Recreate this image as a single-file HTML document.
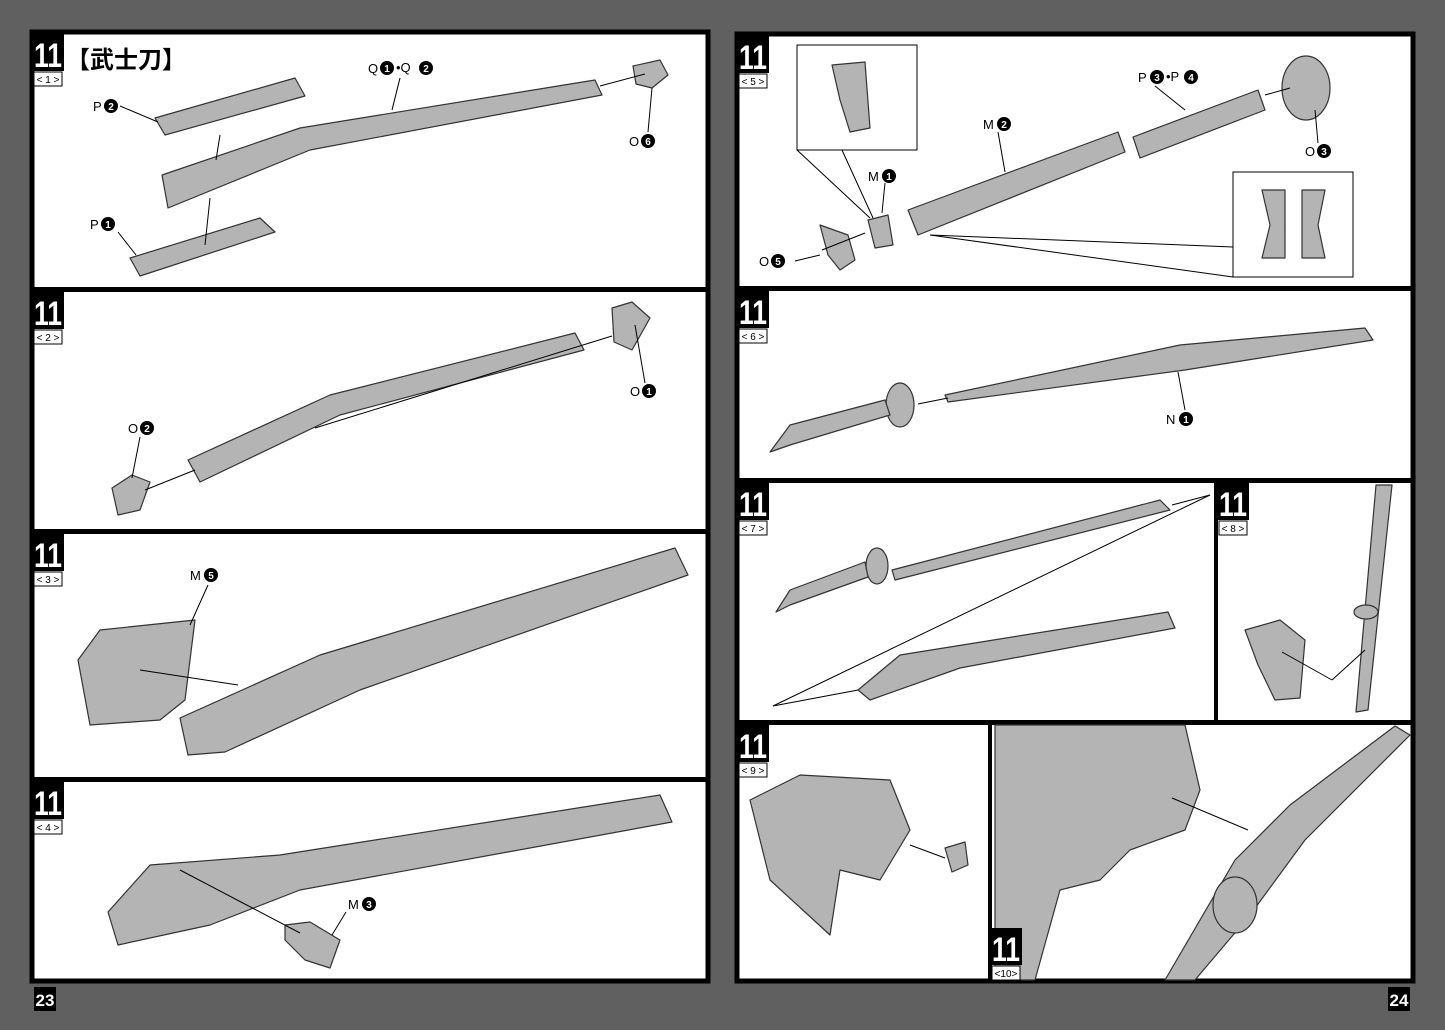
<!DOCTYPE html>
<html><head><meta charset="utf-8"><style>
html,body{margin:0;padding:0;background:#606060;}
svg{display:block}
text{font-family:"Liberation Sans","Noto Sans CJK SC",sans-serif}
</style></head><body>
<svg width="1445" height="1030" viewBox="0 0 1445 1030" xmlns="http://www.w3.org/2000/svg">
<defs>
<g id="tag"><rect x="0" y="0" width="32" height="37" fill="#000"/><text x="16" y="33" font-size="34" font-weight="bold" fill="#fff" text-anchor="middle" textLength="28" lengthAdjust="spacingAndGlyphs">11</text></g>
</defs>
<rect width="1445" height="1030" fill="#606060"/>
<!-- left page -->
<rect x="32" y="32" width="676" height="949" fill="#fff" stroke="#000" stroke-width="5"/>
<rect x="30" y="287" width="680" height="5" fill="#000"/>
<rect x="30" y="529" width="680" height="5" fill="#000"/>
<rect x="30" y="777" width="680" height="5" fill="#000"/>
<!-- right page -->
<rect x="737" y="34" width="676" height="947" fill="#fff" stroke="#000" stroke-width="5"/>
<rect x="735" y="286" width="680" height="5" fill="#000"/>
<rect x="735" y="478" width="680" height="5" fill="#000"/>
<rect x="735" y="720" width="680" height="5" fill="#000"/>
<rect x="1214" y="480" width="4" height="242" fill="#000"/>

<text x="66" y="68" font-size="24" font-weight="bold" fill="#000">【武士刀】</text>

<!-- page numbers -->
<rect x="34" y="987" width="22" height="24" fill="#000"/><text x="45" y="1006" font-size="17" font-weight="bold" fill="#fff" text-anchor="middle">23</text>
<rect x="1388" y="987" width="22" height="24" fill="#000"/><text x="1399" y="1006" font-size="17" font-weight="bold" fill="#fff" text-anchor="middle">24</text>

<g fill="#b4b4b4" stroke="#333" stroke-width="1.2" stroke-linejoin="round">
<!-- panel 1 -->
<path d="M162,175 L300,128 L595,80 L602,95 L310,150 L168,208 Z"/>
<path d="M155,118 L295,78 L305,96 L165,135 Z"/>
<path d="M130,258 L260,218 L275,232 L140,276 Z"/>
<path d="M633,66 L660,60 L668,75 L652,88 L636,84 Z"/>
<!-- panel 2 -->
<path d="M188,460 L330,395 L575,333 L584,350 L340,415 L200,482 Z"/>
<path d="M612,308 L632,302 L650,318 L632,350 L614,342 Z"/>
<path d="M112,488 L132,475 L150,482 L140,510 L118,515 Z"/>
<!-- panel 3 -->
<path d="M180,718 L320,655 L675,548 L688,575 L360,690 L225,752 L188,755 Z"/>
<path d="M78,660 L100,630 L195,620 L185,700 L160,720 L90,725 Z"/>
<!-- panel 4 -->
<path d="M108,912 L150,865 L280,855 L660,795 L672,822 L300,890 L210,925 L118,945 Z"/>
<path d="M285,925 L310,922 L340,940 L330,968 L305,960 L285,940 Z"/>
<!-- panel 5 -->
<path d="M908,210 L1118,132 L1125,152 L918,235 Z"/>
<path d="M1133,137 L1258,90 L1265,110 L1140,158 Z"/>
<ellipse cx="1306" cy="88" rx="24" ry="32"/>
<path d="M868,220 L888,215 L893,245 L875,248 Z"/>
<path d="M820,225 L848,235 L855,260 L840,270 L828,255 Z"/>
<path d="M832,65 L865,62 L870,128 L850,132 L840,100 Z"/>
<path d="M1262,190 L1285,190 L1285,258 L1262,258 L1270,225 Z"/>
<path d="M1302,190 L1325,190 L1318,225 L1325,258 L1302,258 Z"/>
<!-- panel 6 -->
<path d="M945,395 L1180,345 L1365,328 L1373,340 L1185,370 L948,402 Z"/>
<ellipse cx="900" cy="405" rx="14" ry="22"/>
<path d="M770,452 L790,425 L885,400 L890,415 L790,445 Z"/>
<!-- panel 7 -->
<path d="M892,570 L1160,500 L1170,510 L895,580 Z"/>
<ellipse cx="877" cy="566" rx="11" ry="18"/>
<path d="M776,612 L790,590 L865,562 L868,577 L790,605 Z"/>
<path d="M858,690 L900,655 L1168,612 L1175,628 L960,668 L870,700 Z"/>
<!-- panel 8 -->
<path d="M1376,485 L1392,485 L1368,710 L1356,712 Z"/>
<ellipse cx="1366" cy="612" rx="12" ry="7"/>
<path d="M1245,630 L1280,620 L1305,640 L1300,698 L1275,700 L1258,665 Z"/>
<!-- panel 9 -->
<path d="M750,800 L800,775 L890,780 L910,830 L880,880 L840,870 L830,935 L770,880 Z"/>
<path d="M945,848 L965,842 L968,865 L952,872 Z"/>
<!-- panel 10 -->
<path d="M995,725 L1185,725 L1200,790 L1185,830 L1130,850 L1100,880 L1060,890 L1035,980 L995,980 Z"/>
<path d="M1165,980 L1235,860 L1290,805 L1395,726 L1410,735 L1305,840 L1250,915 L1195,980 Z"/>
<ellipse cx="1235" cy="905" rx="22" ry="28"/>
</g>
<rect x="988" y="722" width="4" height="260" fill="#000"/>

<!-- leader lines -->
<g stroke="#000" stroke-width="1" fill="none">
<line x1="120" y1="106" x2="158" y2="122"/>
<line x1="400" y1="78" x2="392" y2="110"/>
<line x1="652" y1="88" x2="648" y2="132"/>
<line x1="600" y1="86" x2="645" y2="74"/>
<line x1="118" y1="232" x2="136" y2="255"/>
<line x1="216" y1="160" x2="220" y2="135"/>
<line x1="205" y1="245" x2="210" y2="198"/>
<line x1="635" y1="325" x2="645" y2="383"/>
<line x1="315" y1="428" x2="612" y2="336"/>
<line x1="145" y1="490" x2="195" y2="470"/>
<line x1="140" y1="437" x2="132" y2="478"/>
<line x1="208" y1="585" x2="190" y2="625"/>
<line x1="140" y1="670" x2="238" y2="685"/>
<line x1="180" y1="870" x2="300" y2="933"/>
<line x1="346" y1="912" x2="332" y2="935"/>
<line x1="1155" y1="86" x2="1185" y2="110"/>
<line x1="998" y1="132" x2="1005" y2="172"/>
<line x1="1315" y1="110" x2="1318" y2="143"/>
<line x1="1265" y1="95" x2="1290" y2="88"/>
<line x1="885" y1="183" x2="882" y2="213"/>
<line x1="795" y1="261" x2="820" y2="255"/>
<line x1="822" y1="250" x2="865" y2="233"/>
<rect x="797" y="45" width="120" height="105"/>
<line x1="797" y1="150" x2="870" y2="218"/><line x1="842" y1="150" x2="873" y2="218"/>
<rect x="1233" y="172" width="120" height="105"/>
<line x1="930" y1="235" x2="1233" y2="247"/><line x1="930" y1="235" x2="1233" y2="277"/>
<line x1="1178" y1="372" x2="1185" y2="410"/>
<line x1="918" y1="404" x2="948" y2="398"/>
<line x1="773" y1="706" x2="1210" y2="495"/><line x1="773" y1="706" x2="858" y2="690"/>
<line x1="1172" y1="505" x2="1210" y2="495"/>
<line x1="1282" y1="652" x2="1332" y2="680"/><line x1="1332" y1="680" x2="1365" y2="650"/>
<line x1="910" y1="845" x2="945" y2="858"/>
<line x1="1172" y1="798" x2="1248" y2="830"/>
</g>

<!-- tags -->
<g font-weight="bold">
<g transform="translate(32,34)"><use href="#tag"/><rect x="2" y="38" width="28" height="14" fill="#fff" stroke="#000"/><text x="16" y="49" font-size="10" text-anchor="middle" font-weight="normal">&lt; 1 &gt;</text></g>
<g transform="translate(32,292)"><use href="#tag"/><rect x="2" y="38" width="28" height="14" fill="#fff" stroke="#000"/><text x="16" y="49" font-size="10" text-anchor="middle" font-weight="normal">&lt; 2 &gt;</text></g>
<g transform="translate(32,534)"><use href="#tag"/><rect x="2" y="38" width="28" height="14" fill="#fff" stroke="#000"/><text x="16" y="49" font-size="10" text-anchor="middle" font-weight="normal">&lt; 3 &gt;</text></g>
<g transform="translate(32,782)"><use href="#tag"/><rect x="2" y="38" width="28" height="14" fill="#fff" stroke="#000"/><text x="16" y="49" font-size="10" text-anchor="middle" font-weight="normal">&lt; 4 &gt;</text></g>
<g transform="translate(737,36)"><use href="#tag"/><rect x="2" y="38" width="28" height="14" fill="#fff" stroke="#000"/><text x="16" y="49" font-size="10" text-anchor="middle" font-weight="normal">&lt; 5 &gt;</text></g>
<g transform="translate(737,291)"><use href="#tag"/><rect x="2" y="38" width="28" height="14" fill="#fff" stroke="#000"/><text x="16" y="49" font-size="10" text-anchor="middle" font-weight="normal">&lt; 6 &gt;</text></g>
<g transform="translate(737,483)"><use href="#tag"/><rect x="2" y="38" width="28" height="14" fill="#fff" stroke="#000"/><text x="16" y="49" font-size="10" text-anchor="middle" font-weight="normal">&lt; 7 &gt;</text></g>
<g transform="translate(1217,483)"><use href="#tag"/><rect x="2" y="38" width="28" height="14" fill="#fff" stroke="#000"/><text x="16" y="49" font-size="10" text-anchor="middle" font-weight="normal">&lt; 8 &gt;</text></g>
<g transform="translate(737,725)"><use href="#tag"/><rect x="2" y="38" width="28" height="14" fill="#fff" stroke="#000"/><text x="16" y="49" font-size="10" text-anchor="middle" font-weight="normal">&lt; 9 &gt;</text></g>
<g transform="translate(990,928)"><use href="#tag"/><rect x="2" y="38" width="28" height="14" fill="#fff" stroke="#000"/><text x="16" y="49" font-size="10" text-anchor="middle" font-weight="normal">&lt;10&gt;</text></g>
</g>

<!-- labels -->
<g font-size="13" fill="#000">
<text x="93" y="111">P</text><circle cx="111" cy="106" r="7"/><text x="111" y="110" fill="#fff" font-size="10" text-anchor="middle" font-weight="bold">2</text>
<text x="368" y="73">Q</text><circle cx="387" cy="68" r="7"/><text x="387" y="72" fill="#fff" font-size="10" text-anchor="middle" font-weight="bold">1</text><text x="396" y="72">•Q</text><circle cx="426" cy="68" r="7"/><text x="426" y="72" fill="#fff" font-size="10" text-anchor="middle" font-weight="bold">2</text>
<text x="629" y="146">O</text><circle cx="648" cy="141" r="7"/><text x="648" y="145" fill="#fff" font-size="10" text-anchor="middle" font-weight="bold">6</text>
<text x="90" y="229">P</text><circle cx="108" cy="224" r="7"/><text x="108" y="228" fill="#fff" font-size="10" text-anchor="middle" font-weight="bold">1</text>
<text x="630" y="396">O</text><circle cx="649" cy="391" r="7"/><text x="649" y="395" fill="#fff" font-size="10" text-anchor="middle" font-weight="bold">1</text>
<text x="128" y="433">O</text><circle cx="147" cy="428" r="7"/><text x="147" y="432" fill="#fff" font-size="10" text-anchor="middle" font-weight="bold">2</text>
<text x="190" y="580">M</text><circle cx="211" cy="575" r="7"/><text x="211" y="579" fill="#fff" font-size="10" text-anchor="middle" font-weight="bold">5</text>
<text x="348" y="909">M</text><circle cx="369" cy="904" r="7"/><text x="369" y="908" fill="#fff" font-size="10" text-anchor="middle" font-weight="bold">3</text>
<text x="1138" y="82">P</text><circle cx="1157" cy="77" r="7"/><text x="1157" y="81" fill="#fff" font-size="10" text-anchor="middle" font-weight="bold">3</text><text x="1166" y="81">•P</text><circle cx="1191" cy="77" r="7"/><text x="1191" y="81" fill="#fff" font-size="10" text-anchor="middle" font-weight="bold">4</text>
<text x="983" y="129">M</text><circle cx="1004" cy="124" r="7"/><text x="1004" y="128" fill="#fff" font-size="10" text-anchor="middle" font-weight="bold">2</text>
<text x="1305" y="156">O</text><circle cx="1324" cy="151" r="7"/><text x="1324" y="155" fill="#fff" font-size="10" text-anchor="middle" font-weight="bold">3</text>
<text x="868" y="181">M</text><circle cx="889" cy="176" r="7"/><text x="889" y="180" fill="#fff" font-size="10" text-anchor="middle" font-weight="bold">1</text>
<text x="759" y="266">O</text><circle cx="778" cy="261" r="7"/><text x="778" y="265" fill="#fff" font-size="10" text-anchor="middle" font-weight="bold">5</text>
<text x="1166" y="424">N</text><circle cx="1186" cy="419" r="7"/><text x="1186" y="423" fill="#fff" font-size="10" text-anchor="middle" font-weight="bold">1</text>
</g>
</svg>
</body></html>
